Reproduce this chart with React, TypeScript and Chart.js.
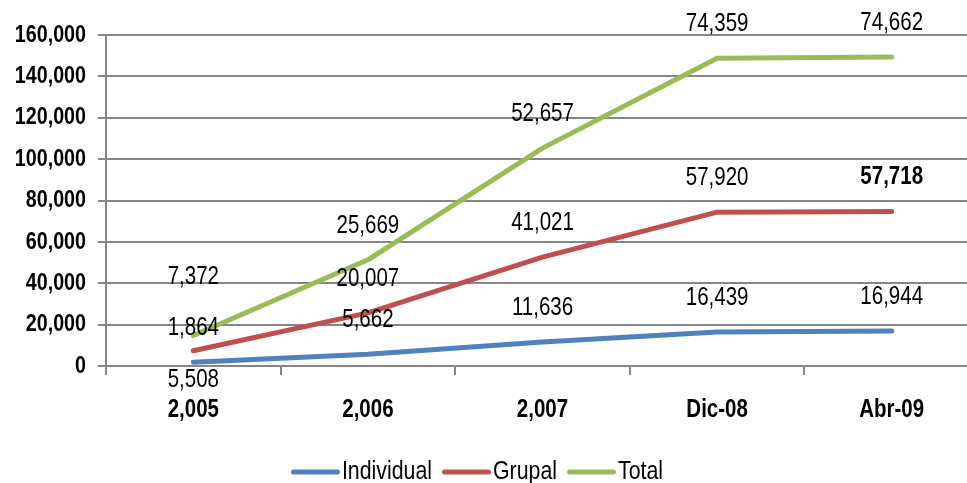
import { useEffect, useRef } from "react";
import { Chart, registerables } from "chart.js";

Chart.register(...registerables);

// Afiliados por año (valores de cada serie; se apilan en el eje Y)
const categories = ["2,005", "2,006", "2,007", "Dic-08", "Abr-09"];
const individual = [1864, 5662, 11636, 16439, 16944];
const grupal = [5508, 20007, 41021, 57920, 57718];
const total = [7372, 25669, 52657, 74359, 74662];
const seriesNames = ["Individual", "Grupal", "Total"];

const Y_MIN = 0;
const Y_MAX = 160000;
const Y_STEP = 20000;

const COLORS = ["#4F81BD", "#C0504D", "#9BBB59"];
const GRID = "#868686";
const FONT = '"Liberation Sans", Arial, sans-serif';
// Narrow face: regular sans squeezed horizontally
const NARROW = 0.82;

// Value labels sit above each point; a couple were nudged by hand.
const LABEL_DY_DEFAULT = -34;
const LABEL_DY: Record<string, number> = { "1:0": 29, "2:0": -58 };
const BOLD_LABELS = ["1:4"];

const fmt = (v: number) => v.toLocaleString("en-US");

function drawNarrow(
  ctx: CanvasRenderingContext2D,
  text: string,
  x: number,
  y: number,
  align: CanvasTextAlign,
  font: string
) {
  ctx.save();
  ctx.font = font;
  ctx.textAlign = align;
  ctx.textBaseline = "middle";
  ctx.fillStyle = "#000";
  ctx.translate(x, y);
  ctx.scale(NARROW, 1);
  ctx.fillText(text, 0, 0);
  ctx.restore();
}

const axisText = {
  id: "axisText",
  afterDraw(chart: any) {
    const ctx = chart.ctx;
    const y = chart.scales.y;
    y.ticks.forEach((t: any) => {
      drawNarrow(ctx, fmt(t.value), 86, y.getPixelForValue(t.value), "right", `bold 24px ${FONT}`);
    });
    const x = chart.scales.x;
    chart.data.labels.forEach((lab: string, i: number) => {
      drawNarrow(ctx, lab, x.getPixelForTick(i), 410, "center", `bold 25px ${FONT}`);
    });
  },
};

const valueLabels = {
  id: "valueLabels",
  afterDatasetsDraw(chart: any) {
    const ctx = chart.ctx;
    chart.data.datasets.forEach((ds: any, di: number) => {
      const meta = chart.getDatasetMeta(di);
      meta.data.forEach((pt: any, i: number) => {
        const key = `${di}:${i}`;
        const dy = LABEL_DY[key] ?? LABEL_DY_DEFAULT;
        const font = `${BOLD_LABELS.includes(key) ? "bold " : ""}25px ${FONT}`;
        drawNarrow(ctx, fmt(ds.data[i]), pt.x, pt.y + dy, "center", font);
      });
    });
  },
};

const lineLegend = {
  id: "lineLegend",
  afterDraw(chart: any) {
    const ctx = chart.ctx;
    const font = `26px ${FONT}`;
    ctx.save();
    ctx.font = font;
    const lineLen = 49;
    const gap = 2;
    const itemGap = 10;
    const items = chart.data.datasets.map((ds: any) => ({
      label: ds.label,
      color: ds.borderColor,
      w: ctx.measureText(ds.label).width * NARROW,
    }));
    ctx.restore();
    const width =
      items.reduce((s: number, it: any) => s + lineLen + gap + it.w, 0) +
      itemGap * (items.length - 1);
    let x = 477 - width / 2;
    const y = 472;
    items.forEach((it: any) => {
      ctx.save();
      ctx.strokeStyle = it.color;
      ctx.lineWidth = 5;
      ctx.lineCap = "round";
      ctx.beginPath();
      ctx.moveTo(x + 2.5, y);
      ctx.lineTo(x + lineLen - 2.5, y);
      ctx.stroke();
      ctx.restore();
      x += lineLen + gap;
      drawNarrow(ctx, it.label, x, y, "left", font);
      x += it.w + itemGap;
    });
  },
};

export default function App() {
  const canvasRef = useRef<HTMLCanvasElement | null>(null);

  useEffect(() => {
    if (!canvasRef.current) return;
    const series = [individual, grupal, total];
    const chart = new Chart(canvasRef.current, {
      type: "line",
      data: {
        labels: categories,
        datasets: series.map((data, i) => ({
          label: seriesNames[i],
          data,
          borderColor: COLORS[i],
          backgroundColor: COLORS[i],
          borderWidth: 5,
          borderCapStyle: "round",
          borderJoinStyle: "round",
          pointRadius: 0,
          pointHoverRadius: 0,
          fill: false,
          tension: 0,
        })),
      },
      options: {
        responsive: false,
        animation: false,
        devicePixelRatio: 1,
        layout: { padding: { left: 0, right: 6, top: 35, bottom: 0 } },
        plugins: {
          legend: { display: false },
          tooltip: { enabled: false },
        },
        scales: {
          x: {
            offset: true,
            grid: {
              offset: true,
              drawOnChartArea: false,
              drawTicks: true,
              tickLength: 9,
              color: GRID,
              lineWidth: 2,
            },
            border: { display: true, color: GRID, width: 2 },
            ticks: { display: false },
            afterFit(scale: any) {
              scale.height = 117;
            },
          },
          y: {
            stacked: true,
            min: Y_MIN,
            max: Y_MAX,
            grid: {
              color: GRID,
              lineWidth: 2,
              tickLength: 8,
              drawTicks: true,
            },
            border: { display: true, color: GRID, width: 2 },
            ticks: { stepSize: Y_STEP, display: false },
            afterFit(scale: any) {
              scale.width = 106;
            },
          },
        },
      },
      plugins: [valueLabels, axisText, lineLegend],
    });
    return () => chart.destroy();
  }, []);

  return (
    <div
      style={{
        position: "fixed",
        left: 0,
        top: 0,
        width: 967,
        height: 483,
        overflow: "hidden",
        background: "#fff",
      }}
    >
      <canvas ref={canvasRef} width={985} height={483} style={{ display: "block" }} />
    </div>
  );
}
